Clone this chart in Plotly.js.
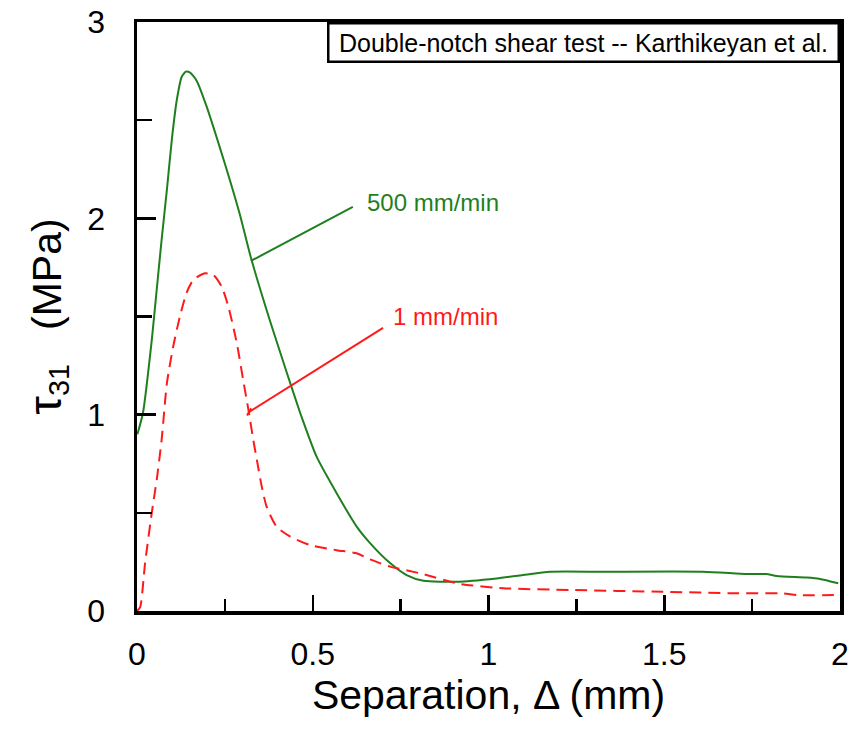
<!DOCTYPE html>
<html>
<head>
<meta charset="utf-8">
<script src="https://cdn.plot.ly/plotly-3.0.1.min.js"></script>
<style>html,body{margin:0;padding:0;background:#fff;}#chart{width:855px;height:738px;}</style>
</head>
<body>
<div id="chart"></div>
<script>
// 500 mm/min (green, solid)
const fastX = [0.001, 0.017, 0.042, 0.056, 0.070, 0.085, 0.099, 0.113, 0.127, 0.139, 0.151, 0.170, 0.198, 0.236, 0.265, 0.293, 0.324, 0.378, 0.426, 0.464, 0.480, 0.511, 0.568, 0.625, 0.663, 0.720, 0.767, 0.815, 0.910, 1.023, 1.098, 1.175, 1.326, 1.610, 1.735, 1.790, 1.820, 1.905, 1.943, 1.995];
const fastY = [0.90, 1.01, 1.38, 1.635, 1.89, 2.145, 2.40, 2.60, 2.72, 2.747, 2.742, 2.70, 2.57, 2.359, 2.19, 2.017, 1.80, 1.48, 1.215, 1.01, 0.93, 0.786, 0.60, 0.43, 0.346, 0.244, 0.183, 0.154, 0.149, 0.166, 0.183, 0.200, 0.200, 0.200, 0.188, 0.188, 0.178, 0.170, 0.163, 0.141];
// 1 mm/min (red, dashed)
const slowX = [0.0, 0.009, 0.023, 0.042, 0.056, 0.070, 0.085, 0.103, 0.122, 0.141, 0.160, 0.193, 0.217, 0.241, 0.260, 0.284, 0.302, 0.317, 0.331, 0.341, 0.355, 0.369, 0.397, 0.435, 0.492, 0.568, 0.625, 0.663, 0.720, 0.805, 0.919, 1.042, 1.232, 1.497, 1.706, 1.839, 1.877, 1.995];
const slowY = [0.0, 0.02, 0.244, 0.50, 0.667, 0.87, 1.16, 1.347, 1.50, 1.62, 1.686, 1.72, 1.712, 1.652, 1.55, 1.364, 1.177, 1.024, 0.87, 0.77, 0.633, 0.53, 0.43, 0.38, 0.336, 0.31, 0.294, 0.263, 0.226, 0.192, 0.138, 0.116, 0.107, 0.098, 0.09, 0.09, 0.0815, 0.0815];

const seriesNames = ["500 mm/min", "1 mm/min"];
const chartNote = "Double-notch shear test -- Karthikeyan et al.";
const xTitle = "Separation, \u0394 (mm)";
const yTitle = "<span style=\"font-size:47px\">\u03c4</span><sub>31</sub>&nbsp;&nbsp;&nbsp;(MPa)";

// leader lines [x0, y0, x1, y1] and label anchors [x, y]
const fastLeader = [0.324, 1.783, 0.614, 2.058];
const slowLeader = [0.319, 1.014, 0.700, 1.442];
const fastLabelPos = [0.649, 2.08];
const slowLabelPos = [0.723, 1.50];

const GREEN = "#1f7f1f";
const RED = "#ff1a1a";
const FONT = "Liberation Sans, Arial, sans-serif";

const traces = [
  {x: fastX, y: fastY, mode: "lines", name: seriesNames[0], line: {color: GREEN, width: 2, shape: "spline", smoothing: 0.6}},
  {x: slowX, y: slowY, mode: "lines", name: seriesNames[1], line: {color: RED, width: 2, dash: "12px,7px", shape: "spline", smoothing: 0.6}}
];

const axisCommon = {
  showline: true, linecolor: "#000", linewidth: 3.5, mirror: true,
  showgrid: false, zeroline: false,
  ticks: "inside", tickcolor: "#000", tickwidth: 2.5,
  tickfont: {family: FONT, size: 32, color: "#000"}
};

const layout = {
  width: 855, height: 738,
  margin: {l: 137, r: 15, t: 22, b: 127},
  paper_bgcolor: "#fff", plot_bgcolor: "#fff",
  showlegend: false,
  font: {family: FONT, color: "#000"},
  xaxis: Object.assign({}, axisCommon, {
    range: [0, 2], dtick: 0.5, tick0: 0, ticklen: 16,
    ticklabelstandoff: 12,
    minor: {ticks: "inside", dtick: 0.25, ticklen: 12, tickwidth: 2.5, tickcolor: "#000", showgrid: false},
    title: {text: xTitle, font: {family: FONT, size: 41, color: "#000"}, standoff: 8}
  }),
  yaxis: Object.assign({}, axisCommon, {
    range: [0, 3], dtick: 1, tick0: 0, ticklen: 19,
    ticklabelstandoff: 22,
    minor: {ticks: "inside", dtick: 0.5, ticklen: 15, tickwidth: 2.5, tickcolor: "#000", showgrid: false},
    title: {text: yTitle, font: {family: FONT, size: 41, color: "#000"}, standoff: 14}
  }),
  shapes: [
    {type: "line", xref: "x", yref: "y", x0: fastLeader[0], y0: fastLeader[1], x1: fastLeader[2], y1: fastLeader[3], line: {color: GREEN, width: 2}},
    {type: "line", xref: "x", yref: "y", x0: slowLeader[0], y0: slowLeader[1], x1: slowLeader[2], y1: slowLeader[3], line: {color: RED, width: 2}},
    {type: "line", xref: "x", yref: "y", x0: slowLeader[0] - 0.006, y0: slowLeader[1] - 0.018, x1: slowLeader[0] + 0.006, y1: slowLeader[1] + 0.018, line: {color: RED, width: 2}}
  ],
  annotations: [
    {xref: "paper", yref: "paper", x: 1, y: 1, xanchor: "right", yanchor: "top",
     text: chartNote, showarrow: false, bgcolor: "#fff", bordercolor: "#000", borderwidth: 2.5,
     borderpad: 4, width: 500, height: 28, align: "center",
     font: {family: FONT, size: 25, color: "#000"}},
    {xref: "x", yref: "y", x: fastLabelPos[0], y: fastLabelPos[1], xanchor: "left", yanchor: "middle",
     text: seriesNames[0], showarrow: false, font: {family: FONT, size: 24, color: GREEN}},
    {xref: "x", yref: "y", x: slowLabelPos[0], y: slowLabelPos[1], xanchor: "left", yanchor: "middle",
     text: seriesNames[1], showarrow: false, font: {family: FONT, size: 24, color: RED}}
  ]
};

Plotly.newPlot("chart", traces, layout, {displayModeBar: false, staticPlot: true});
</script>
</body>
</html>
